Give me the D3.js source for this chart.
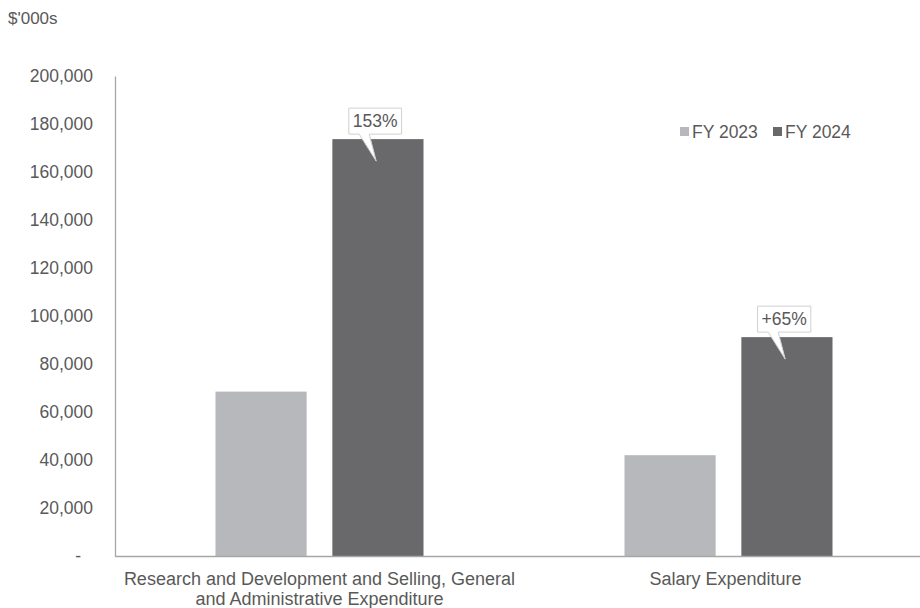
<!DOCTYPE html>
<html><head><meta charset="utf-8">
<script src="https://cdn.jsdelivr.net/npm/d3@7"></script>
<style>body{margin:0;background:#fff}svg{display:block;font-family:"Liberation Sans",Arial,sans-serif}</style>
</head><body><svg id="c" width="920" height="608"></svg>
<script>
const categories = ["RD", "SAL"];
const categoryLabels = [["Research and Development and Selling, General","and Administrative Expenditure"],["Salary Expenditure"]];
const seriesNames = ["FY 2023","FY 2024"];
const fy2023 = [68500, 42000];
const fy2024 = [173700, 91200];
const callouts = ["153%","+65%"];
const yTicks = [0,20000,40000,60000,80000,100000,120000,140000,160000,180000,200000];
const colors = ["#b7b8bb","#69696b"];

const svg = d3.select("#c");
const y = d3.scaleLinear().domain([0,200000]).range([556,76]);
const x = d3.scaleBand().domain(categories).range([115,933]);
const inner = d3.scaleBand().domain(seriesNames).range([0,208]).paddingInner(0.22);
const off = (x.bandwidth()-208)/2;
const txt = "#595959";
const fs = 17.5;

// y axis
const yAxis = d3.axisLeft(y).tickValues(yTicks).tickSize(0).tickPadding(22)
  .tickFormat(d => d===0 ? "-" : d3.format(",")(d));
const ga = svg.append("g").attr("transform","translate(115,0)").call(yAxis);
ga.select(".domain").attr("stroke","#a6a6a6").attr("stroke-width",1.3);
ga.selectAll("text").attr("fill",txt).attr("font-size",fs).attr("font-family","Liberation Sans, Arial, sans-serif");
ga.selectAll(".tick").filter(d=>d===0).select("text").attr("dx",-12);

svg.append("text").attr("x",8).attr("y",24).attr("fill",txt).attr("font-size",17).text("$'000s");

// bars
const data = categories.map((c,i)=>({c, vals:[fy2023[i],fy2024[i]]}));
data.forEach((d,i)=>{
  d.vals.forEach((v,j)=>{
    svg.append("rect")
      .attr("x", x(d.c)+off+inner(seriesNames[j]))
      .attr("y", y(v))
      .attr("width", inner.bandwidth())
      .attr("height", y(0)-y(v))
      .attr("fill", colors[j]);
  });
});

// x axis line
svg.append("line").attr("x1",115).attr("x2",920).attr("y1",556.5).attr("y2",556.5)
  .attr("stroke","#a6a6a6").attr("stroke-width",1.3);

// x labels
data.forEach((d,i)=>{
  const cx = x(d.c)+x.bandwidth()/2 - (i===1?3:0);
  categoryLabels[i].forEach((ln,k)=>{
    svg.append("text").attr("x",cx).attr("y",585+k*20).attr("text-anchor","middle")
      .attr("fill",txt).attr("font-size",18).text(ln);
  });
});

// callouts
data.forEach((d,i)=>{
  const bx = x(d.c)+off+inner(seriesNames[1]);
  const bw = inner.bandwidth();
  const top = y(d.vals[1]);
  const cx = bx + bw*0.47;
  const g = svg.append("g");
  const path = g.append("path");
  const t = g.append("text").attr("x",cx).attr("y",top-12).attr("text-anchor","middle")
    .attr("fill",txt).attr("font-size",fs).text(callouts[i]);
  const bb = t.node().getBBox();
  const l = bb.x-4, r = bb.x+bb.width+4, tp = bb.y-3, bt = top-5;
  const p1 = cx-16, p2 = cx-6, tipx = cx+1, tipy = top+22;
  path.attr("d",`M${l},${tp}H${r}V${bt}H${p2}L${tipx},${tipy}L${p1},${bt}H${l}Z`)
    .attr("fill","#fff").attr("stroke","#d0d0d0").attr("stroke-width",1);
});

// legend
const lg = [{x:680,n:seriesNames[0],c:colors[0]},{x:773,n:seriesNames[1],c:colors[1]}];
lg.forEach(o=>{
  svg.append("rect").attr("x",o.x).attr("y",127).attr("width",9).attr("height",9).attr("fill",o.c);
  svg.append("text").attr("x",o.x+12).attr("y",138).attr("fill",txt).attr("font-size",fs).text(o.n);
});
</script></body></html>
